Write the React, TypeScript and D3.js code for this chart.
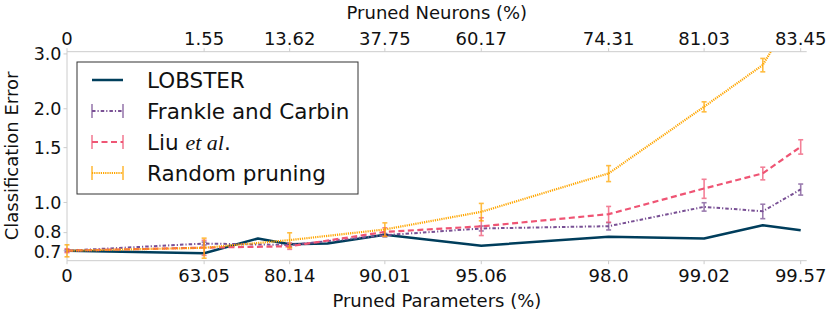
import React from "react";
import * as d3 from "d3";

// ---------- data ----------
const tickPruned = [0, 63.05, 80.14, 90.05, 95.06, 98.04, 99.02, 99.514];
const bottomTickLabels = ["0", "63.05", "80.14", "90.01", "95.06", "98.0", "99.02", "99.57"];
const topTickLabels = ["0", "1.55", "13.62", "37.75", "60.17", "74.31", "81.03", "83.45"];
const yTicks = [0.7, 0.8, 1.0, 1.5, 2.0, 3.0];

const lobsterPruned = [0, 63.05, 75.0, 80.14, 84.9, 90.05, 95.06, 98.04, 99.02, 99.36, 99.514];
const lobsterError = [0.699, 0.687, 0.766, 0.734, 0.738, 0.788, 0.726, 0.776, 0.766, 0.845, 0.814];

const basePruned = [0, 63.05, 80.14, 90.05, 95.06, 98.04, 99.02, 99.36, 99.514];
const frankleMean = [0.7, 0.738, 0.73, 0.785, 0.825, 0.839, 0.968, 0.937, 1.101];
const frankleStd = [0.005, 0.008, 0.01, 0.01, 0.015, 0.023, 0.03, 0.05, 0.045];
const liuMean = [0.7, 0.716, 0.723, 0.804, 0.838, 0.917, 1.109, 1.24, 1.51];
const liuStd = [0.01, 0.04, 0.016, 0.025, 0.055, 0.054, 0.078, 0.058, 0.08];
const randomMean = [0.7, 0.715, 0.757, 0.819, 0.933, 1.24, 2.03, 2.765, 4.4];
const randomStd = [0.031, 0.053, 0.042, 0.041, 0.06, 0.073, 0.075, 0.137, 0.2];

const seriesNames = ["LOBSTER", "Frankle and Carbin", "Liu", "Random pruning"];
const colors = ["#003f5c", "#7a5195", "#ef5675", "#ffa600"];

// ---------- layout ----------
const W = 830, H = 317;
const left = 67, right = 800.7, top = 51.7, bottom = 260.7;
const spineRight = 806.7;
const FONT = "DejaVu Sans";

export default function App() {
  const x = d3.scaleLog().domain([100, 100 - 99.514]).range([left, right]);
  const xp = (p: number) => x(100 - p);
  const y = d3.scaleLog().domain([0.65, 3.05]).range([bottom, top]);

  const line = d3.line<[number, number]>().x(d => xp(d[0])).y(d => y(d[1]));

  const lobPts = lobsterPruned.map((p, i) => [p, lobsterError[i]] as [number, number]);
  const series = [
    { mean: frankleMean, std: frankleStd, color: colors[1], dash: "3.5,2,1.2,2", width: 2 },
    { mean: liuMean, std: liuStd, color: colors[2], dash: "6,3.5", width: 2.2 },
    { mean: randomMean, std: randomStd, color: colors[3], dash: "1.2,1", width: 2.2 },
  ];

  const cap = 2.5;
  // small nudge keeps the two closely spaced low labels apart
  const yLabelNudge = (v: number) => (v === 0.7 ? 1 : v === 0.8 ? -1 : 0);

  return (
    <div style={{ position: "absolute", left: 0, top: 0 }}>
      <svg width={W} height={H} style={{ display: "block", background: "#fff" }} fontFamily={FONT}>
        <defs>
          <clipPath id="plotClip">
            <rect x={left - 5} y={top} width={spineRight - left + 10} height={bottom - top + 5} />
          </clipPath>
        </defs>

        {/* spines */}
        <g stroke="#cccccc" strokeWidth={1} fill="none">
          <line x1={left} x2={left} y1={top} y2={bottom} />
          <line x1={left} x2={spineRight} y1={bottom} y2={bottom} />
          <line x1={left} x2={spineRight} y1={top} y2={top} />
        </g>

        {/* bottom ticks */}
        {tickPruned.map((p, i) => (
          <g key={"bt" + i}>
            <line x1={xp(p)} x2={xp(p)} y1={bottom} y2={bottom + 3.5} stroke="#cccccc" />
            <text x={xp(p)} y={281.5} textAnchor="middle" fontSize={18} fill="#111">{bottomTickLabels[i]}</text>
          </g>
        ))}
        {/* top ticks */}
        {tickPruned.map((p, i) => (
          <g key={"tt" + i}>
            <line x1={xp(p)} x2={xp(p)} y1={top} y2={top - 3.5} stroke="#cccccc" />
            <text x={xp(p)} y={44.5} textAnchor="middle" fontSize={18} fill="#111">{topTickLabels[i]}</text>
          </g>
        ))}
        {/* y ticks */}
        {yTicks.map((v, i) => (
          <g key={"yt" + i}>
            <line x1={left} x2={left - 3.5} y1={y(v)} y2={y(v)} stroke="#cccccc" />
            <text x={61.5} y={y(v) + 6.3 + yLabelNudge(v)} textAnchor="end" fontSize={17.5} fill="#111">{v.toFixed(1)}</text>
          </g>
        ))}

        {/* axis titles */}
        <text x={(left + spineRight) / 2} y={306.5} textAnchor="middle" fontSize={18} fill="#111">Pruned Parameters (%)</text>
        <text x={(left + spineRight) / 2} y={18.5} textAnchor="middle" fontSize={18} fill="#111">Pruned Neurons (%)</text>
        <text transform={`translate(17.5, 156) rotate(-90)`} textAnchor="middle" fontSize={18} fill="#111">Classification Error</text>

        {/* data */}
        <g clipPath="url(#plotClip)">
          <path d={line(lobPts) || ""} fill="none" stroke={colors[0]} strokeWidth={2.5} strokeLinejoin="round" />
          {series.map((s, si) => {
            const pts = basePruned.map((p, i) => [p, s.mean[i]] as [number, number]);
            return (
              <g key={"s" + si}>
                <path d={line(pts) || ""} fill="none" stroke={s.color} strokeWidth={s.width} strokeDasharray={s.dash} />
                <g stroke={s.color} strokeWidth={1.6} opacity={0.75}>
                  {basePruned.map((p, i) => {
                    const cx = xp(p);
                    const y1 = y(s.mean[i] - s.std[i]);
                    const y2 = y(s.mean[i] + s.std[i]);
                    return (
                      <g key={i}>
                        <line x1={cx} x2={cx} y1={y1} y2={y2} />
                        <line x1={cx - cap} x2={cx + cap} y1={y1} y2={y1} />
                        <line x1={cx - cap} x2={cx + cap} y1={y2} y2={y2} />
                      </g>
                    );
                  })}
                </g>
              </g>
            );
          })}
        </g>

        {/* legend */}
        <g>
          <rect x={77} y={62} width={281} height={132} fill="#fff" stroke="#333" strokeWidth={1} />
          {seriesNames.map((name, i) => {
            const cy = 80 + i * 31;
            const x1 = 92, x2 = 123;
            const st = i === 0 ? null : series[i - 1];
            return (
              <g key={"lg" + i}>
                {st ? (
                  <g>
                    <line x1={x1} x2={x2} y1={cy} y2={cy} stroke={st.color} strokeWidth={st.width} strokeDasharray={st.dash} />
                    <g stroke={st.color} strokeWidth={1.6} opacity={0.75}>
                      <line x1={x1} x2={x1} y1={cy - 7} y2={cy + 7} />
                      <line x1={x2} x2={x2} y1={cy - 7} y2={cy + 7} />
                    </g>
                  </g>
                ) : (
                  <line x1={x1} x2={x2} y1={cy} y2={cy} stroke={colors[0]} strokeWidth={2.5} />
                )}
                <text x={147} y={cy + 7.8} fontSize={21.5} fill="#111">
                  {name}
                  {name === "Liu" ? (
                    <tspan>
                      {" "}
                      <tspan fontFamily="Liberation Serif" fontStyle="italic" fontSize={22}>et al</tspan>.
                    </tspan>
                  ) : null}
                </text>
              </g>
            );
          })}
        </g>
      </svg>
    </div>
  );
}
